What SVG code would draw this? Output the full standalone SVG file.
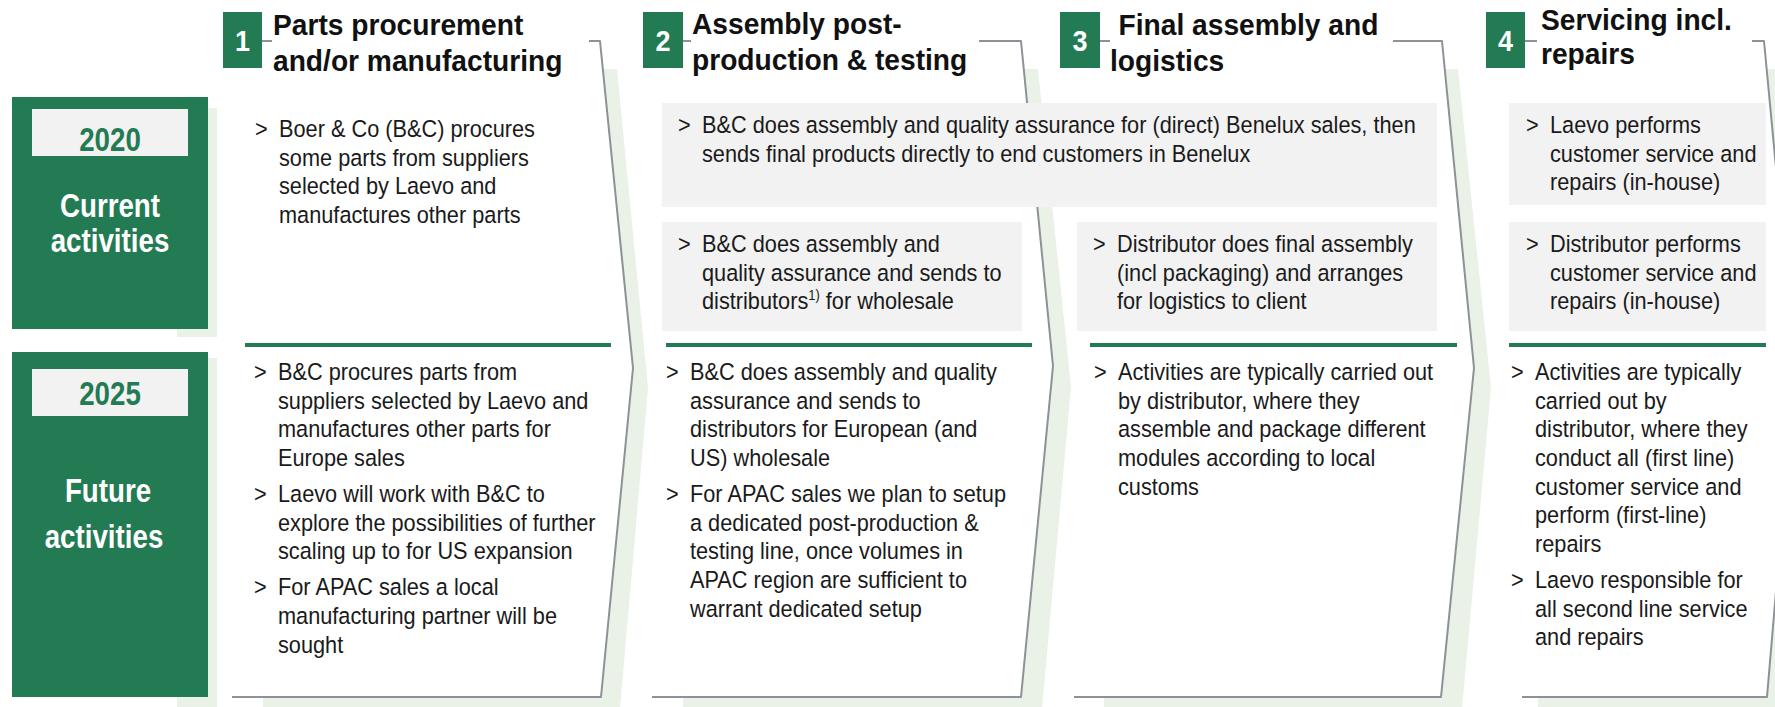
<svg xmlns="http://www.w3.org/2000/svg" width="1775" height="707" viewBox="0 0 1775 707">
  <style>
    .bg { fill: #ffffff; }
    .shadow { fill: #eaf1e6; }
    .panel { fill: #ffffff; }
    .edge { fill: none; stroke: #8d9198; stroke-width: 2; stroke-linejoin: round; }
    .rowbox { fill: #227b53; }
    .label { fill: #f2f2f2; }
    .gray { fill: #f2f2f2; }
    .rule { stroke: #227b53; stroke-width: 4; }
    .numbox { fill: #227b53; }
    .num { font-family: "Liberation Sans", Arial, sans-serif; font-weight: bold; font-size: 30px; fill: #ffffff; text-anchor: middle; }
    .title { font-family: "Liberation Sans", Arial, sans-serif; font-weight: bold; font-size: 29.5px; fill: #111111; }
    .year { font-family: "Liberation Sans", Arial, sans-serif; font-weight: bold; font-size: 33px; fill: #227b53; text-anchor: middle; }
    .rowname { font-family: "Liberation Sans", Arial, sans-serif; font-weight: bold; font-size: 33px; fill: #ffffff; text-anchor: middle; }
    .body { font-family: "Liberation Sans", Arial, sans-serif; font-size: 23.5px; fill: #1a1a1a; }
    .sup { font-size: 14px; }
  </style>

  <rect class="bg" x="0" y="0" width="1775" height="707"/>

  <!-- drop shadows behind the row headers and the four process columns -->
  <g id="shadows">
    <rect class="shadow" x="177" y="108" width="40" height="229"/>
    <rect class="shadow" x="177" y="358" width="40" height="360"/>
    <polygon class="shadow" points="263,69 617,69 648,388 619,720 263,720"/>
    <polygon class="shadow" points="683,69 1038,69 1071,387 1041,720 683,720"/>
    <polygon class="shadow" points="1104,69 1458,69 1491,388 1461,720 1104,720"/>
    <polygon class="shadow" points="1538,69 1780,69 1812,388 1790,720 1538,720"/>
  </g>

  <!-- row header: 2020 (condensed lettering: x-scale about the anchor) -->
  <g id="row-2020">
    <rect class="rowbox" x="12" y="97" width="196" height="232"/>
    <rect class="label" x="32" y="109" width="156" height="47"/>
    <g transform="matrix(0.84 0 0 1 17.6 0)">
      <text class="year" x="110" y="151">2020</text>
      <text class="rowname" x="110" y="217">Current</text>
      <text class="rowname" x="110" y="252">activities</text>
    </g>
  </g>

  <!-- row header: 2025 -->
  <g id="row-2025">
    <rect class="rowbox" x="12" y="352" width="196" height="345"/>
    <rect class="label" x="32" y="369" width="156" height="47"/>
    <g transform="matrix(0.84 0 0 1 17.6 0)">
      <text class="year" x="110" y="405">2025</text>
    </g>
    <g transform="matrix(0.84 0 0 1 17.28 0)">
      <text class="rowname" x="108" y="502">Future</text>
    </g>
    <g transform="matrix(0.84 0 0 1 16.64 0)">
      <text class="rowname" x="104" y="548">activities</text>
    </g>
  </g>

  <!-- column 1 -->
  <g id="step-1">
    <polygon class="panel" points="232,41 600,41 633,368 601,697 232,697"/>
    <path class="edge" d="M262 41 H272 M589 41 H600 L633 368 L601 697 H232"/>
    <rect class="numbox" x="223" y="12" width="39" height="56"/>
    <g transform="matrix(0.9 0 0 1 24.25 0)">
      <text class="num" x="242.5" y="51">1</text>
    </g>
    <g transform="matrix(0.955 0 0 1 12.285 0)">
      <text class="title" x="273" y="35">Parts procurement</text>
      <text class="title" x="273" y="71">and/or manufacturing</text>
    </g>
  </g>

  <!-- column 2 -->
  <g id="step-2">
    <polygon class="panel" points="652,41 1021,41 1053,366 1021,697 652,697"/>
    <path class="edge" d="M683 41 H691 M979 41 H1021 L1053 366 L1021 697 H652"/>
    <rect class="numbox" x="643" y="12" width="40" height="56"/>
    <g transform="matrix(0.9 0 0 1 66.3 0)">
      <text class="num" x="663" y="51">2</text>
    </g>
    <g transform="matrix(0.955 0 0 1 31.14 0)">
      <text class="title" x="692" y="34">Assembly post-</text>
      <text class="title" x="692" y="70">production &amp; testing</text>
    </g>
  </g>

  <!-- column 3 -->
  <g id="step-3">
    <polygon class="panel" points="1074,41 1442,41 1474,368 1441,697 1074,697"/>
    <path class="edge" d="M1100 41 H1110 M1393 41 H1442 L1474 368 L1441 697 H1074"/>
    <rect class="numbox" x="1060" y="12" width="40" height="56"/>
    <g transform="matrix(0.9 0 0 1 108 0)">
      <text class="num" x="1080" y="51">3</text>
    </g>
    <g transform="matrix(0.955 0 0 1 49.95 0)">
      <text class="title" x="1119" y="35">Final assembly and</text>
      <text class="title" x="1110" y="71">logistics</text>
    </g>
  </g>

  <!-- column 4 -->
  <g id="step-4">
    <polygon class="panel" points="1522,41 1764,41 1795,368 1767,697 1522,697"/>
    <path class="edge" d="M1525 41 H1537 M1752 41 H1764 L1795 368 L1767 697 H1522"/>
    <rect class="numbox" x="1486" y="12" width="39" height="56"/>
    <g transform="matrix(0.9 0 0 1 150.55 0)">
      <text class="num" x="1505.5" y="51">4</text>
    </g>
    <g transform="matrix(0.955 0 0 1 69.345 0)">
      <text class="title" x="1541" y="30">Servicing incl.</text>
      <text class="title" x="1541" y="64">repairs</text>
    </g>
  </g>

  <!-- flow connectors: the column chevrons above carry the flow -->
  <g id="connectors"></g>

  <!-- current activities (2020) -->
  <g id="current-1">
    <g transform="matrix(0.925 0 0 1 20.925 0)">
      <text class="body" x="253" y="137">&gt;</text>
      <text class="body">
        <tspan x="279" y="137">Boer &amp; Co (B&amp;C) procures</tspan>
        <tspan x="279" y="165.7">some parts from suppliers</tspan>
        <tspan x="279" y="194.4">selected by Laevo and</tspan>
        <tspan x="279" y="223.1">manufactures other parts</tspan>
      </text>
    </g>
  </g>

  <g id="current-benelux">
    <rect class="gray" x="662" y="103" width="775" height="104"/>
    <g transform="matrix(0.925 0 0 1 52.65 0)">
      <text class="body" x="676" y="133">&gt;</text>
      <text class="body">
        <tspan x="702" y="133">B&amp;C does assembly and quality assurance for (direct) Benelux sales, then</tspan>
        <tspan x="702" y="161.7">sends final products directly to end customers in Benelux</tspan>
      </text>
    </g>
  </g>

  <g id="current-2">
    <rect class="gray" x="662" y="222" width="360" height="109"/>
    <g transform="matrix(0.925 0 0 1 52.65 0)">
      <text class="body" x="676" y="252">&gt;</text>
      <text class="body">
        <tspan x="702" y="252">B&amp;C does assembly and</tspan>
        <tspan x="702" y="280.7">quality assurance and sends to</tspan>
        <tspan x="702" y="309.4">distributors</tspan><tspan class="sup" dy="-9">1)</tspan><tspan dy="9"> for wholesale</tspan>
      </text>
    </g>
  </g>

  <g id="current-3">
    <rect class="gray" x="1077" y="222" width="360" height="109"/>
    <g transform="matrix(0.925 0 0 1 83.775 0)">
      <text class="body" x="1091" y="252">&gt;</text>
      <text class="body">
        <tspan x="1117" y="252">Distributor does final assembly</tspan>
        <tspan x="1117" y="280.7">(incl packaging) and arranges</tspan>
        <tspan x="1117" y="309.4">for logistics to client</tspan>
      </text>
    </g>
  </g>

  <g id="current-4a">
    <rect class="gray" x="1509" y="103" width="257" height="102"/>
    <g transform="matrix(0.925 0 0 1 116.25 0)">
      <text class="body" x="1524" y="133">&gt;</text>
      <text class="body">
        <tspan x="1550" y="133">Laevo performs</tspan>
        <tspan x="1550" y="161.7">customer service and</tspan>
        <tspan x="1550" y="190.4">repairs (in-house)</tspan>
      </text>
    </g>
  </g>

  <g id="current-4b">
    <rect class="gray" x="1509" y="222" width="257" height="109"/>
    <g transform="matrix(0.925 0 0 1 116.25 0)">
      <text class="body" x="1524" y="252">&gt;</text>
      <text class="body">
        <tspan x="1550" y="252">Distributor performs</tspan>
        <tspan x="1550" y="280.7">customer service and</tspan>
        <tspan x="1550" y="309.4">repairs (in-house)</tspan>
      </text>
    </g>
  </g>

  <!-- row dividers -->
  <g id="dividers">
    <line class="rule" x1="245" y1="345" x2="611" y2="345"/>
    <line class="rule" x1="666" y1="345" x2="1032" y2="345"/>
    <line class="rule" x1="1090" y1="345" x2="1457" y2="345"/>
    <line class="rule" x1="1509" y1="345" x2="1766" y2="345"/>
  </g>

  <!-- future activities (2025) -->
  <g id="future-1">
    <g transform="matrix(0.925 0 0 1 20.85 0)">
      <text class="body" x="252" y="380">&gt;</text>
      <text class="body" x="252" y="502">&gt;</text>
      <text class="body" x="252" y="595.3">&gt;</text>
      <text class="body">
        <tspan x="278" y="380">B&amp;C procures parts from</tspan>
        <tspan x="278" y="408.7">suppliers selected by Laevo and</tspan>
        <tspan x="278" y="437.4">manufactures other parts for</tspan>
        <tspan x="278" y="466.1">Europe sales</tspan>
        <tspan x="278" y="502">Laevo will work with B&amp;C to</tspan>
        <tspan x="278" y="530.7">explore the possibilities of further</tspan>
        <tspan x="278" y="559.4">scaling up to for US expansion</tspan>
        <tspan x="278" y="595.3">For APAC sales a local</tspan>
        <tspan x="278" y="624">manufacturing partner will be</tspan>
        <tspan x="278" y="652.7">sought</tspan>
      </text>
    </g>
  </g>

  <g id="future-2">
    <g transform="matrix(0.925 0 0 1 51.75 0)">
      <text class="body" x="664" y="380">&gt;</text>
      <text class="body" x="664" y="502">&gt;</text>
      <text class="body">
        <tspan x="690" y="380">B&amp;C does assembly and quality</tspan>
        <tspan x="690" y="408.7">assurance and sends to</tspan>
        <tspan x="690" y="437.4">distributors for European (and</tspan>
        <tspan x="690" y="466.1">US) wholesale</tspan>
        <tspan x="690" y="502">For APAC sales we plan to setup</tspan>
        <tspan x="690" y="530.7">a dedicated post-production &amp;</tspan>
        <tspan x="690" y="559.4">testing line, once volumes in</tspan>
        <tspan x="690" y="588.1">APAC region are sufficient to</tspan>
        <tspan x="690" y="616.8">warrant dedicated setup</tspan>
      </text>
    </g>
  </g>

  <g id="future-3">
    <g transform="matrix(0.925 0 0 1 83.85 0)">
      <text class="body" x="1092" y="380">&gt;</text>
      <text class="body">
        <tspan x="1118" y="380">Activities are typically carried out</tspan>
        <tspan x="1118" y="408.7">by distributor, where they</tspan>
        <tspan x="1118" y="437.4">assemble and package different</tspan>
        <tspan x="1118" y="466.1">modules according to local</tspan>
        <tspan x="1118" y="494.8">customs</tspan>
      </text>
    </g>
  </g>

  <g id="future-4">
    <g transform="matrix(0.925 0 0 1 115.125 0)">
      <text class="body" x="1509" y="380">&gt;</text>
      <text class="body" x="1509" y="588">&gt;</text>
      <text class="body">
        <tspan x="1535" y="380">Activities are typically</tspan>
        <tspan x="1535" y="408.7">carried out by</tspan>
        <tspan x="1535" y="437.4">distributor, where they</tspan>
        <tspan x="1535" y="466.1">conduct all (first line)</tspan>
        <tspan x="1535" y="494.8">customer service and</tspan>
        <tspan x="1535" y="523.5">perform (first-line)</tspan>
        <tspan x="1535" y="552.2">repairs</tspan>
        <tspan x="1535" y="588">Laevo responsible for</tspan>
        <tspan x="1535" y="616.7">all second line service</tspan>
        <tspan x="1535" y="645.4">and repairs</tspan>
      </text>
    </g>
  </g>
</svg>
